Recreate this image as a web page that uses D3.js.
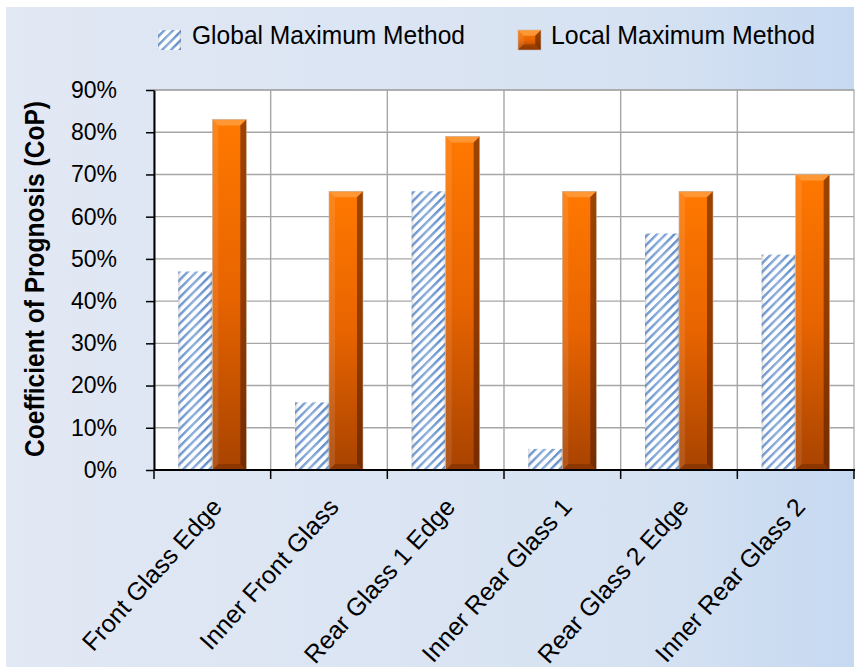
<!DOCTYPE html>
<html>
<head>
<meta charset="utf-8">
<script src="https://cdn.jsdelivr.net/npm/d3@7"></script>
<style>
  body { margin: 0; background: #ffffff; }
  svg { display: block; }
  text { font-family: "Liberation Sans", "DejaVu Sans", sans-serif; fill: #000; }
</style>
</head>
<body>
<script>
// Coefficient of Prognosis per glass region, for two detection methods
const categories = [
  "Front Glass Edge",
  "Inner Front Glass",
  "Rear Glass 1 Edge",
  "Inner Rear Glass 1",
  "Rear Glass 2 Edge",
  "Inner Rear Glass 2"
];
const seriesNames = ["Global Maximum Method", "Local Maximum Method"];
const globalValues = [0.47, 0.16, 0.66, 0.05, 0.56, 0.51];
const localValues  = [0.83, 0.66, 0.79, 0.66, 0.66, 0.70];
const yTicks = [0, 0.1, 0.2, 0.3, 0.4, 0.5, 0.6, 0.7, 0.8, 0.9];
const yTitle = "Coefficient of Prognosis (CoP)";

const W = 856, H = 671;
const plot = { left: 154, right: 854, top: 90, bottom: 470 };

const svg = d3.select("body").append("svg")
  .attr("width", W).attr("height", H);

const defs = svg.append("defs");

// chart-area background: soft blue, deepening to the right
const bg = defs.append("linearGradient").attr("id", "bgGrad")
  .attr("x1", 0).attr("x2", 1).attr("y1", 0).attr("y2", 0);
bg.append("stop").attr("offset", 0).attr("stop-color", "#e2e8f4");
bg.append("stop").attr("offset", 0.75).attr("stop-color", "#d6e2f2");
bg.append("stop").attr("offset", 1).attr("stop-color", "#c6d9f1");

// diagonal hatch for the global-maximum bars
const hatch = defs.append("pattern").attr("id", "hatch")
  .attr("patternUnits", "userSpaceOnUse")
  .attr("width", 6.2).attr("height", 6.2)
  .attr("patternTransform", "rotate(45)");
hatch.append("rect").attr("width", 6.2).attr("height", 6.2).attr("fill", "#ffffff");
hatch.append("rect").attr("x", 0).attr("width", 2.4).attr("height", 6.2).attr("fill", "#5f8dcb");

// soft cylinder-like shading laid over the hatch
const hshade = defs.append("linearGradient").attr("id", "hatchShade")
  .attr("x1", 0).attr("x2", 1).attr("y1", 0).attr("y2", 0);
hshade.append("stop").attr("offset", 0).attr("stop-color", "#7d8590").attr("stop-opacity", 0.35);
hshade.append("stop").attr("offset", 0.12).attr("stop-color", "#ffffff").attr("stop-opacity", 0.1);
hshade.append("stop").attr("offset", 0.45).attr("stop-color", "#ffffff").attr("stop-opacity", 0.3);
hshade.append("stop").attr("offset", 0.85).attr("stop-color", "#ffffff").attr("stop-opacity", 0);
hshade.append("stop").attr("offset", 1).attr("stop-color", "#6a7280").attr("stop-opacity", 0.35);

// orange body gradient for the local-maximum bars
const og = defs.append("linearGradient").attr("id", "orangeBody")
  .attr("x1", 0).attr("x2", 0).attr("y1", 0).attr("y2", 1);
og.append("stop").attr("offset", 0).attr("stop-color", "#ff7800");
og.append("stop").attr("offset", 0.5).attr("stop-color", "#e86400");
og.append("stop").attr("offset", 1).attr("stop-color", "#a84300");

const x0 = d3.scaleBand().domain(categories).range([plot.left, plot.right]);
const barW = 34;
const x1 = d3.scaleBand().domain(seriesNames).range([-barW, barW]);
const y = d3.scaleLinear().domain([0, 0.9]).range([plot.bottom, plot.top]);

// backdrop
svg.append("rect").attr("x", 6).attr("y", 7).attr("width", 848).attr("height", 660)
  .attr("fill", "url(#bgGrad)");

// plot area
svg.append("rect")
  .attr("x", plot.left).attr("y", plot.top)
  .attr("width", plot.right - plot.left).attr("height", plot.bottom - plot.top)
  .attr("fill", "#ffffff").attr("stroke", "#a6a6a6").attr("stroke-width", 1.2);

// grid
const grid = svg.append("g").attr("stroke", "#a6a6a6").attr("stroke-width", 1.4);
grid.selectAll("line.h").data(yTicks.slice(1)).join("line")
  .attr("x1", plot.left).attr("x2", plot.right)
  .attr("y1", d => y(d)).attr("y2", d => y(d));
grid.selectAll("line.v").data(categories.slice(1)).join("line")
  .attr("x1", d => x0(d)).attr("x2", d => x0(d))
  .attr("y1", plot.top).attr("y2", plot.bottom);

// bars
const rows = categories.map((c, i) => ({ cat: c, vals: [globalValues[i], localValues[i]] }));
const groups = svg.append("g").selectAll("g").data(rows).join("g")
  .attr("transform", d => `translate(${x0(d.cat) + x0.bandwidth() / 2},0)`);

function hatchBar(g, x, yTop, w, h) {
  g.append("rect").attr("x", x).attr("y", yTop).attr("width", w).attr("height", h)
    .attr("fill", "url(#hatch)");
  g.append("rect").attr("x", x).attr("y", yTop).attr("width", w).attr("height", h)
    .attr("fill", "url(#hatchShade)");
}

function bevelBar(g, x, yTop, w, h) {
  const b = Math.min(6, h / 2, w / 4);
  g.append("rect").attr("x", x).attr("y", yTop).attr("width", w).attr("height", h)
    .attr("fill", "url(#orangeBody)");
  // top face, lit
  g.append("path")
    .attr("d", `M${x},${yTop}H${x + w}L${x + w - b},${yTop + b}H${x + b}Z`)
    .attr("fill", "#ff9a3a").attr("opacity", 0.9);
  // left edge, lit
  g.append("path")
    .attr("d", `M${x},${yTop}L${x + b},${yTop + b}V${yTop + h - b}L${x},${yTop + h}Z`)
    .attr("fill", "#ffffff").attr("opacity", 0.1);
  // right edge, shadowed
  g.append("path")
    .attr("d", `M${x + w},${yTop}L${x + w - b},${yTop + b}V${yTop + h - b}L${x + w},${yTop + h}Z`)
    .attr("fill", "#4a1a00").attr("opacity", 0.55);
  // bottom edge, shadowed
  g.append("path")
    .attr("d", `M${x},${yTop + h}L${x + b},${yTop + h - b}H${x + w - b}L${x + w},${yTop + h}Z`)
    .attr("fill", "#5a2000").attr("opacity", 0.35);
  g.append("rect").attr("x", x).attr("y", yTop).attr("width", w).attr("height", h)
    .attr("fill", "none").attr("stroke", "#c9b7a8").attr("stroke-width", 0.6);
}

groups.each(function (d) {
  const g = d3.select(this);
  d.vals.forEach((v, k) => {
    const name = seriesNames[k];
    const bx = x1(name);
    const top = y(v);
    const h = y(0) - y(v);
    if (k === 0) hatchBar(g, bx, top, x1.bandwidth(), h);
    else bevelBar(g, bx, top, x1.bandwidth(), h);
  });
});

// y axis
const yAxis = svg.append("g")
  .attr("transform", `translate(${plot.left},0)`)
  .call(d3.axisLeft(y).tickValues(yTicks).tickFormat(d3.format(".0%"))
    .tickSizeInner(8).tickSizeOuter(0).tickPadding(30));
yAxis.select(".domain").attr("stroke", "#000").attr("stroke-width", 2);
yAxis.selectAll(".tick line").attr("stroke", "#000").attr("stroke-width", 1.5);
yAxis.selectAll(".tick text")
  .attr("font-size", 23)
  .attr("font-family", "'Liberation Sans', sans-serif")
  .attr("text-anchor", "end")
  .attr("x", -37);

// x axis
const xAxis = svg.append("g")
  .attr("transform", `translate(0,${plot.bottom})`)
  .call(d3.axisBottom(x0).tickValues([]).tickSizeOuter(0));
xAxis.select(".domain").attr("stroke", "#000").attr("stroke-width", 2)
  .attr("d", `M${plot.left},0H${plot.right + 1}`);
xAxis.selectAll("line.sep").data(categories.concat(["end"])).join("line")
  .attr("class", "sep")
  .attr("x1", (d, i) => i < categories.length ? x0(d) : plot.right)
  .attr("x2", (d, i) => i < categories.length ? x0(d) : plot.right)
  .attr("y1", 0).attr("y2", 9)
  .attr("stroke", "#000").attr("stroke-width", 1.5);

// category labels, slanted
svg.append("g").selectAll("text").data(categories).join("text")
  .attr("transform", d => `translate(${x0(d) + x0.bandwidth() / 2 + 11},${plot.bottom + 38}) rotate(-48)`)
  .attr("text-anchor", "end")
  .attr("font-size", 25)
  .text(d => d);

// y title
svg.append("text")
  .attr("transform", `translate(44,279) rotate(-90)`)
  .attr("text-anchor", "middle")
  .attr("font-size", 27)
  .attr("font-weight", "bold")
  .attr("textLength", 356).attr("lengthAdjust", "spacingAndGlyphs")
  .text(yTitle);

// legend
const legend = svg.append("g");
const legendItems = [
  { name: seriesNames[0], sx: 158, tx: 192, tw: 273 },
  { name: seriesNames[1], sx: 518, tx: 551, tw: 264 }
];
legendItems.forEach((it, k) => {
  const g = legend.append("g");
  if (k === 0) hatchBar(g, it.sx, 30, 23, 20);
  else bevelBar(g, it.sx, 30, 23, 20);
  g.append("text").attr("x", it.tx).attr("y", 44)
    .attr("font-size", 26)
    .attr("textLength", it.tw).attr("lengthAdjust", "spacingAndGlyphs")
    .text(it.name);
});
</script>
</body>
</html>
